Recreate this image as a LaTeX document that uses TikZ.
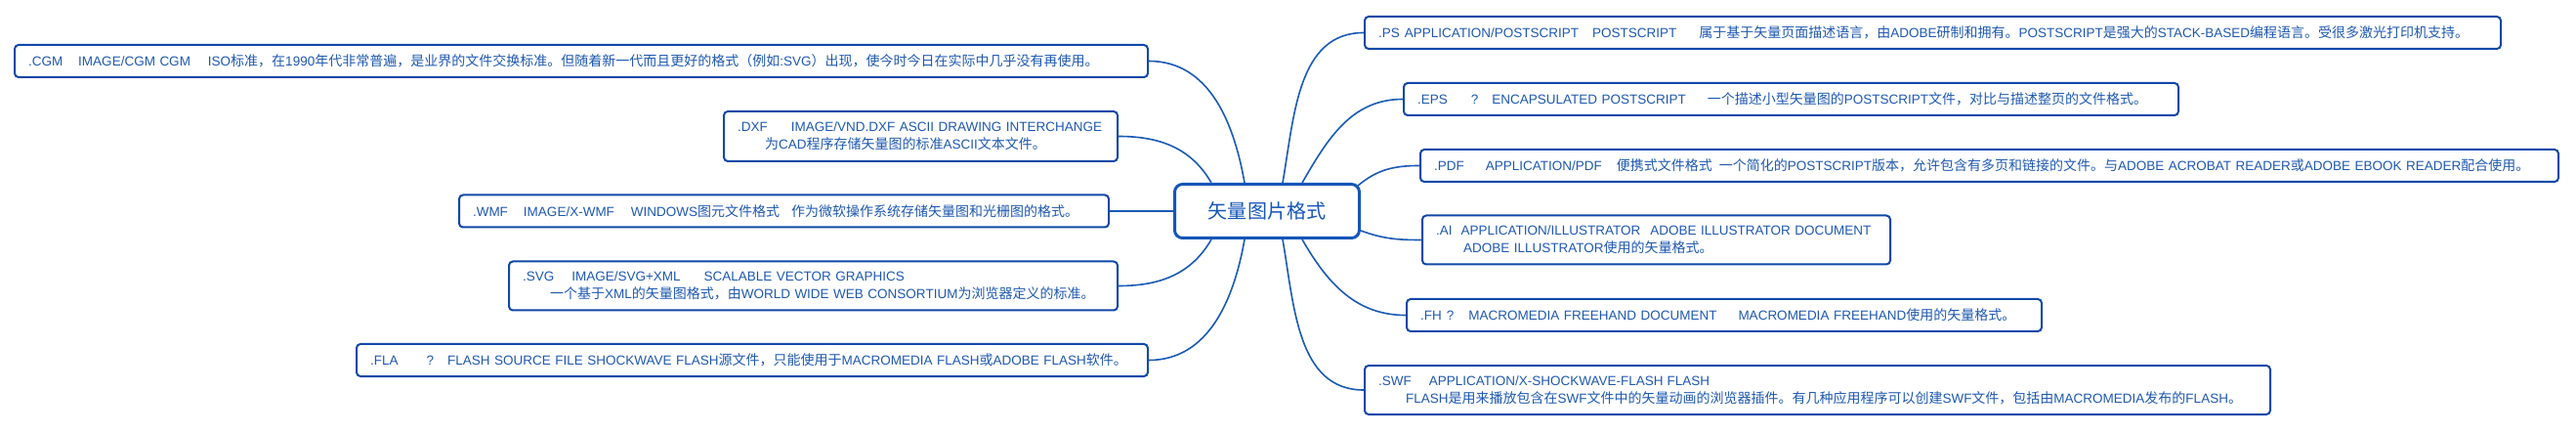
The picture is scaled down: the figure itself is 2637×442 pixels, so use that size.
\documentclass[tikz,border=0pt]{standalone}
\usepackage{fontspec}
\setmainfont{Liberation Sans}
\newfontfamily\hanfont[Scale=1.037]{Noto Sans CJK SC}
% Chinese runs switch to \hanfont by themselves
\XeTeXinterchartokenstate=1
\newXeTeXintercharclass\hanclass
\newcount\hancnt
\newcommand{\hanrange}[2]{\hancnt=#1\relax
  \loop\XeTeXcharclass\hancnt=\hanclass\relax
  \advance\hancnt by 1\relax
  \ifnum\hancnt<#2\repeat}
\hanrange{"3000}{"3040}
\hanrange{"4E00}{"A000}
\hanrange{"FF00}{"FFF0}
\XeTeXinterchartoks 0 \hanclass = {\begingroup\hanfont}
\XeTeXinterchartoks 4095 \hanclass = {\begingroup\hanfont}
\XeTeXinterchartoks \hanclass 0 = {\endgroup}
\XeTeXinterchartoks \hanclass 4095 = {\endgroup}
\definecolor{boxblue}{RGB}{16,72,168}
\definecolor{hubblue}{RGB}{21,86,184}
\definecolor{txtblue}{RGB}{30,88,176}
\definecolor{linkblue}{RGB}{24,90,182}
\newcommand{\tabgap}[1]{\hspace{#1pt}}

\begin{document}
\begin{tikzpicture}[x=1pt,y=1pt,
    leaf/.style={draw=boxblue,line width=2pt,rounded corners=4pt,text=txtblue,
      font=\fontsize{13.5}{18}\selectfont,align=left,inner xsep=14pt,inner ysep=0pt,
      minimum height=33pt},
    hub/.style={draw=hubblue,line width=3pt,rounded corners=8pt,text=hubblue,
      font=\fontsize{19.3}{24}\selectfont,minimum width=189pt,minimum height=55pt},
    link/.style={draw=linkblue,line width=1.6pt}]
    \useasboundingbox (0,0) rectangle (2637,442);
    \node (c) at (1297,226) [hub] {矢量图片格式};
    % left side
    \node (l1) at (1176,379.5) [leaf,anchor=east,text width=1132pt] {.CGM\tabgap{16}IMAGE/CGM CGM\tabgap{18}ISO标准，在1990年代非常普遍，是业界的文件交换标准。但随着新一代而且更好的格式（例如:SVG）出现，使今时今日在实际中几乎没有再使用。};
    \node (l2) at (1145,302.5) [leaf,anchor=east,text width=375pt,minimum height=51pt] {\mbox{.DXF\tabgap{24}IMAGE/VND.DXF ASCII DRAWING INTERCHANGE}\\\hspace*{28pt}为CAD程序存储矢量图的标准ASCII文本文件。};
    \node (l3) at (1136,226) [leaf,anchor=east,text width=637pt] {.WMF\tabgap{16}IMAGE/X-WMF\tabgap{17}WINDOWS图元文件格式\tabgap{12}作为微软操作系统存储矢量图和光栅图的格式。};
    \node (l4) at (1145,149.5) [leaf,anchor=east,text width=595pt,minimum height=50pt] {.SVG\tabgap{18}IMAGE/SVG+XML\tabgap{24}SCALABLE VECTOR GRAPHICS\\\hspace*{28pt}一个基于XML的矢量图格式，由WORLD WIDE WEB CONSORTIUM为浏览器定义的标准。};
    \node (l5) at (1176,73.5) [leaf,anchor=east,text width=782pt] {.FLA\tabgap{29}?\tabgap{14}FLASH SOURCE FILE SHOCKWAVE FLASH源文件，只能使用于MACROMEDIA FLASH或ADOBE FLASH软件。};
    % right side
    \node (r1) at (1396,408.5) [leaf,anchor=west,text width=1135pt] {.PS\tabgap{5}APPLICATION/POSTSCRIPT\tabgap{14}POSTSCRIPT\tabgap{23}属于基于矢量页面描述语言，由ADOBE研制和拥有。POSTSCRIPT是强大的STACK-BASED编程语言。受很多激光打印机支持。};
    \node (r2) at (1436,340.5) [leaf,anchor=west,text width=765pt] {.EPS\tabgap{24}?\tabgap{14}ENCAPSULATED POSTSCRIPT\tabgap{22}一个描述小型矢量图的POSTSCRIPT文件，对比与描述整页的文件格式。};
    \node (r3) at (1453,272.5) [leaf,anchor=west,text width=1137pt] {.PDF\tabgap{22}APPLICATION/PDF\tabgap{15}便携式文件格式\tabgap{7}一个简化的POSTSCRIPT版本，允许包含有多页和链接的文件。与ADOBE ACROBAT READER或ADOBE EBOOK READER配合使用。};
    \node (r4) at (1455,196.5) [leaf,anchor=west,text width=451pt,minimum height=50pt] {.AI\tabgap{9}APPLICATION/ILLUSTRATOR\tabgap{10}ADOBE ILLUSTRATOR DOCUMENT\\\hspace*{28pt}ADOBE ILLUSTRATOR使用的矢量格式。};
    \node (r5) at (1439,119.5) [leaf,anchor=west,text width=622pt] {.FH\tabgap{5}?\tabgap{15}MACROMEDIA FREEHAND DOCUMENT\tabgap{22}MACROMEDIA FREEHAND使用的矢量格式。};
    \node (r6) at (1396,43) [leaf,anchor=west,text width=899pt,minimum height=50pt] {.SWF\tabgap{18}APPLICATION/X-SHOCKWAVE-FLASH\tabgap{4}FLASH\\\hspace*{28pt}FLASH是用来播放包含在SWF文件中的矢量动画的浏览器插件。有几种应用程序可以创建SWF文件，包括由MACROMEDIA发布的FLASH。};
    % branches
    \draw[link] ([xshift=-23pt]c.north) to[out=100,in=0] (l1.east);
    \draw[link] ([xshift=-57pt]c.north) to[out=120,in=0] (l2.east);
    \draw[link] (c.west) -- (l3.east);
    \draw[link] ([xshift=-57pt]c.south) to[out=-120,in=0] (l4.east);
    \draw[link] ([xshift=-23pt]c.south) to[out=-100,in=0] (l5.east);
    \draw[link] ([xshift=16pt]c.north) to[out=80,in=180] (r1.west);
    \draw[link] ([xshift=36pt]c.north) to[out=60,in=180] (r2.west);
    \draw[link] ([xshift=-3pt,yshift=-3pt]c.north east) to[out=40,in=180] (r3.west);
    \draw[link] ([yshift=-20pt]c.east) to[out=-20,in=180] (r4.west);
    \draw[link] ([xshift=36pt]c.south) to[out=-60,in=180] (r5.west);
    \draw[link] ([xshift=16pt]c.south) to[out=-80,in=180] (r6.west);
\end{tikzpicture}
\end{document}
